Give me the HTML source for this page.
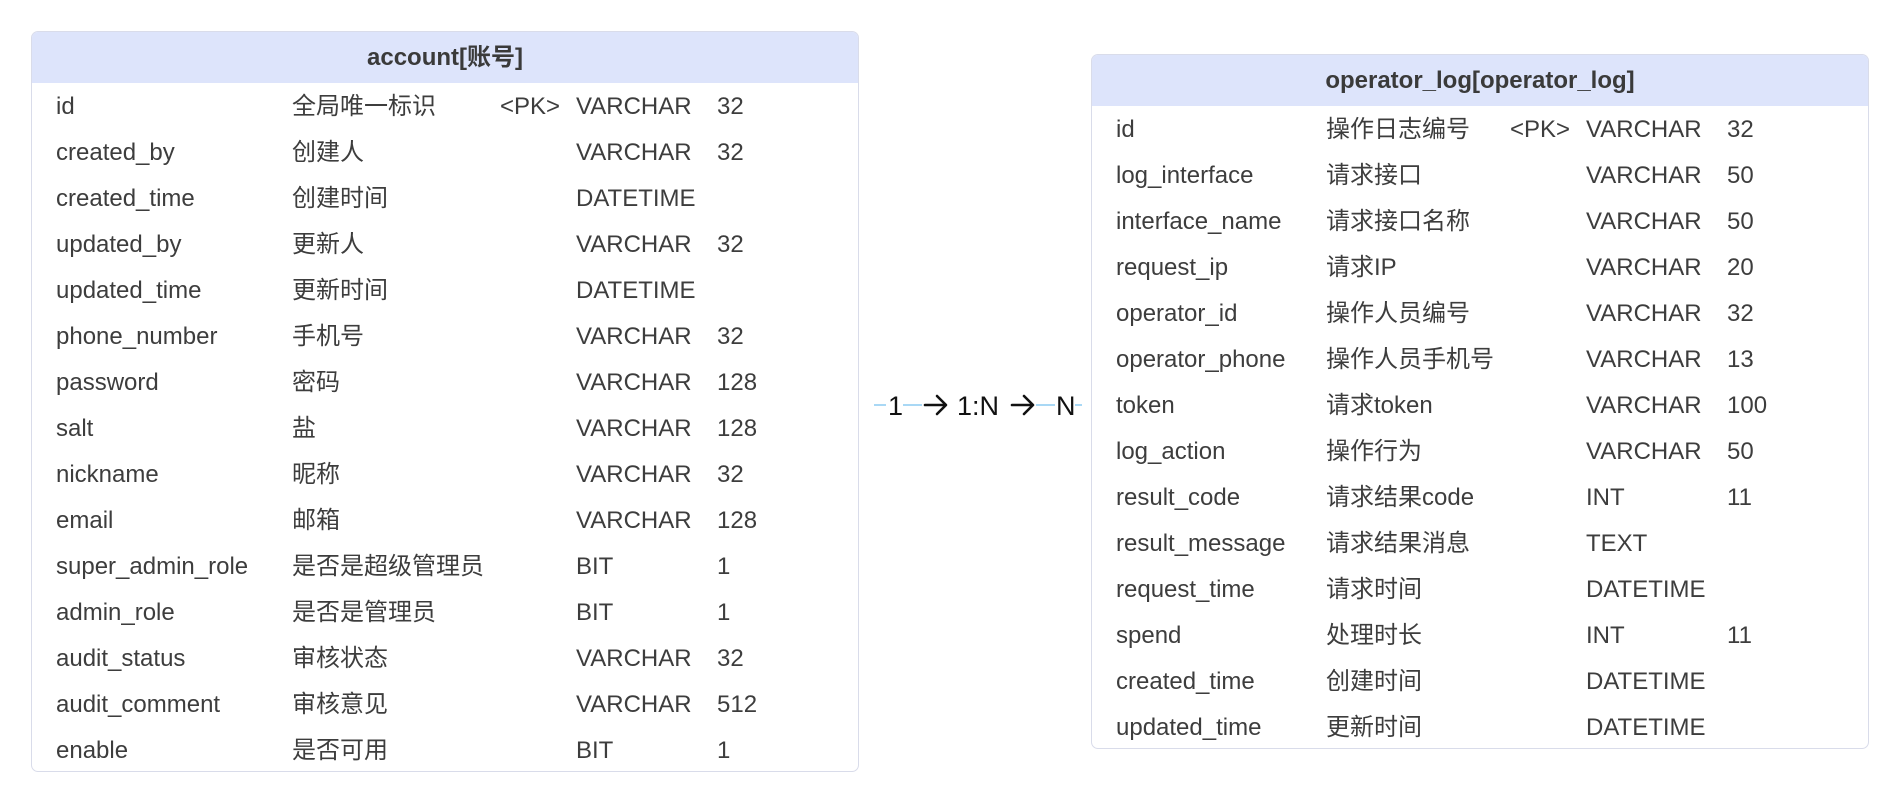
<!DOCTYPE html>
<html><head><meta charset="utf-8"><style>
body{margin:0;width:1899px;height:803px;background:#fff;position:relative;overflow:hidden;font-family:"Liberation Sans","Noto Sans CJK SC",sans-serif;color:#3d3d3d}
.t{position:absolute;border:1.5px solid #d9dcea;border-radius:7px;background:#fff;overflow:hidden;box-sizing:border-box}
.h{background:#dde4fb;height:51px;line-height:51px;text-align:center;font-weight:bold;font-size:24px;color:#3a3a3a}
.r{position:absolute;font-size:24px;white-space:nowrap;line-height:28px}
.c{position:absolute;font-size:27px;color:#111;line-height:30px}
</style></head><body>
<div class="t" style="left:31px;top:31px;width:828px;height:741px"><div class="h">account[账号]</div></div>
<div class="t" style="left:1091px;top:54px;width:778px;height:695px"><div class="h">operator_log[operator_log]</div></div>
<div id="L"></div><div id="R"></div>
<svg style="position:absolute;left:0;top:0" width="1899" height="803">
<g stroke="#a9d8f5" stroke-width="2">
<line x1="874" y1="405" x2="886" y2="405"/><line x1="903" y1="405" x2="922" y2="405"/>
<line x1="1036" y1="405" x2="1055" y2="405"/><line x1="1075" y1="405" x2="1082" y2="405"/>
</g>
<g stroke="#111" stroke-width="2.6" fill="none" stroke-linecap="round" stroke-linejoin="round">
<path d="M925 405H945M937 396L946 405L937 414"/>
<path d="M1012 405H1032M1024 396L1033 405L1024 414"/>
</g></svg>
<div class="c" style="left:888px;top:391px">1</div>
<div class="c" style="left:957px;top:391px">1:N</div>
<div class="c" style="left:1056px;top:391px">N</div>
<script>
function fill(rows,x,y0,id){var h='';rows.forEach(function(r,i){var y=y0+i*46-13;for(var j=0;j<5;j++){if(r[j])h+='<div class="r" style="left:'+x[j]+'px;top:'+y+'px">'+r[j]+'</div>';}});document.getElementById(id).innerHTML=h;}
fill([
['id','全局唯一标识','&lt;PK&gt;','VARCHAR','32'],
['created_by','创建人','','VARCHAR','32'],
['created_time','创建时间','','DATETIME',''],
['updated_by','更新人','','VARCHAR','32'],
['updated_time','更新时间','','DATETIME',''],
['phone_number','手机号','','VARCHAR','32'],
['password','密码','','VARCHAR','128'],
['salt','盐','','VARCHAR','128'],
['nickname','昵称','','VARCHAR','32'],
['email','邮箱','','VARCHAR','128'],
['super_admin_role','是否是超级管理员','','BIT','1'],
['admin_role','是否是管理员','','BIT','1'],
['audit_status','审核状态','','VARCHAR','32'],
['audit_comment','审核意见','','VARCHAR','512'],
['enable','是否可用','','BIT','1']],[56,292,500,576,717],106,'L');
fill([
['id','操作日志编号','&lt;PK&gt;','VARCHAR','32'],
['log_interface','请求接口','','VARCHAR','50'],
['interface_name','请求接口名称','','VARCHAR','50'],
['request_ip','请求IP','','VARCHAR','20'],
['operator_id','操作人员编号','','VARCHAR','32'],
['operator_phone','操作人员手机号','','VARCHAR','13'],
['token','请求token','','VARCHAR','100'],
['log_action','操作行为','','VARCHAR','50'],
['result_code','请求结果code','','INT','11'],
['result_message','请求结果消息','','TEXT',''],
['request_time','请求时间','','DATETIME',''],
['spend','处理时长','','INT','11'],
['created_time','创建时间','','DATETIME',''],
['updated_time','更新时间','','DATETIME','']],[1116,1326,1510,1586,1727],129,'R');
</script>
</body></html>
